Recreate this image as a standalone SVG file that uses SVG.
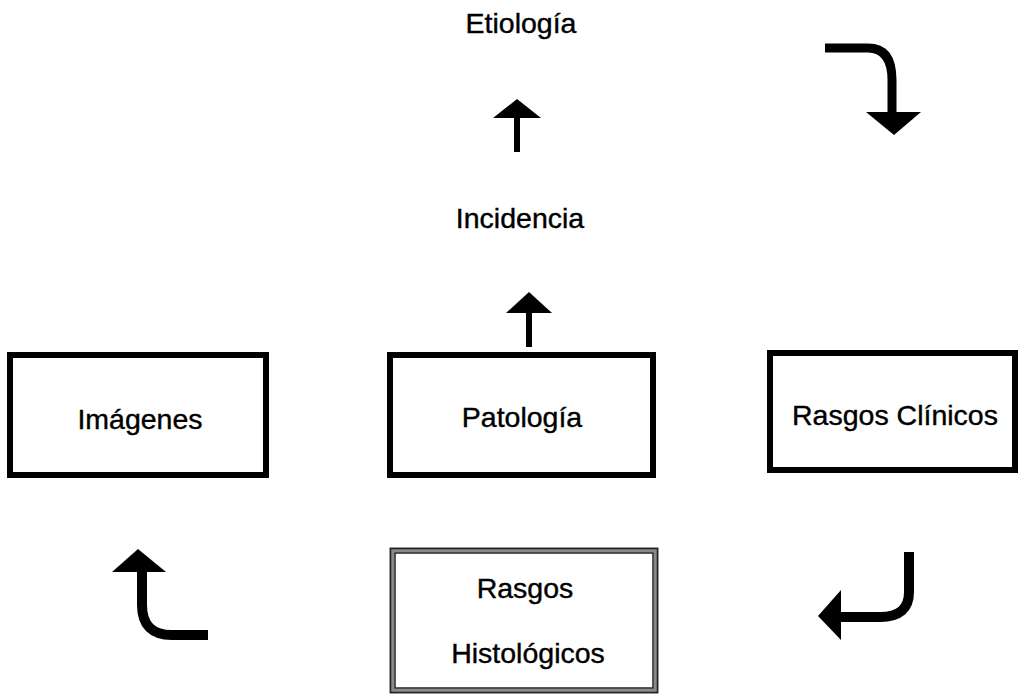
<svg xmlns="http://www.w3.org/2000/svg" width="1026" height="694" viewBox="0 0 1026 694">
<style>
.lbl{font-family:"Liberation Sans",Arial,sans-serif;font-size:28.5px;fill:#000;stroke:#000;stroke-width:0.4;text-anchor:middle}
.box{fill:#fff;stroke:#000;stroke-width:6}
.shaft{fill:none;stroke:#000;stroke-linecap:butt}
.head{fill:#000}
</style>
<rect width="1026" height="694" fill="#fff"/>
<g id="connectors">
  <!-- Patologia -> Incidencia -->
  <line class="shaft" x1="529" y1="347" x2="529" y2="310" stroke-width="6"/>
  <polygon class="head" points="529,292 552,313 506,313"/>
  <!-- Incidencia -> Etiologia -->
  <line class="shaft" x1="517" y1="152" x2="517" y2="116" stroke-width="6"/>
  <polygon class="head" points="517,99 541,118 493,118"/>
  <!-- Etiologia -> Rasgos Clinicos -->
  <path class="shaft" d="M825,48 H868 Q892,48 892,80 V114" stroke-width="9"/>
  <polygon class="head" points="866,112 921,112 894,135"/>
  <!-- Rasgos Clinicos -> Histologicos -->
  <path class="shaft" d="M909,552 V592 Q909,617 880,617 H838" stroke-width="10"/>
  <polygon class="head" points="818,616 841,590 841,640"/>
  <!-- Histologicos -> Imagenes -->
  <path class="shaft" d="M208,635 H172 Q142,635 142,605 V570" stroke-width="10"/>
  <polygon class="head" points="138,549 166,572 112,572"/>
</g>
<g id="etiologia">
  <text class="lbl" x="521" y="33">Etiología</text>
</g>
<g id="incidencia">
  <text class="lbl" x="520" y="228">Incidencia</text>
</g>
<g id="imagenes">
  <rect class="box" x="10" y="355" width="256" height="120"/>
  <text class="lbl" x="140" y="429">Imágenes</text>
</g>
<g id="patologia">
  <rect class="box" x="390" y="355" width="263" height="120"/>
  <text class="lbl" x="522" y="427">Patología</text>
</g>
<g id="rasgos-clinicos">
  <rect class="box" x="770" y="353" width="245" height="117"/>
  <text class="lbl" x="895" y="425">Rasgos Clínicos</text>
</g>
<g id="rasgos-histologicos">
  <rect x="392" y="550" width="264" height="141" fill="#fff" stroke="#8a8a8a" stroke-width="5"/>
  <rect x="390.5" y="548.5" width="267" height="144" fill="none" stroke="#222" stroke-width="1.5"/>
  <rect x="395" y="553" width="258" height="135" fill="none" stroke="#222" stroke-width="1.5"/>
  <text class="lbl" x="525" y="598">Rasgos</text>
  <text class="lbl" x="528" y="663">Histológicos</text>
</g>
</svg>
